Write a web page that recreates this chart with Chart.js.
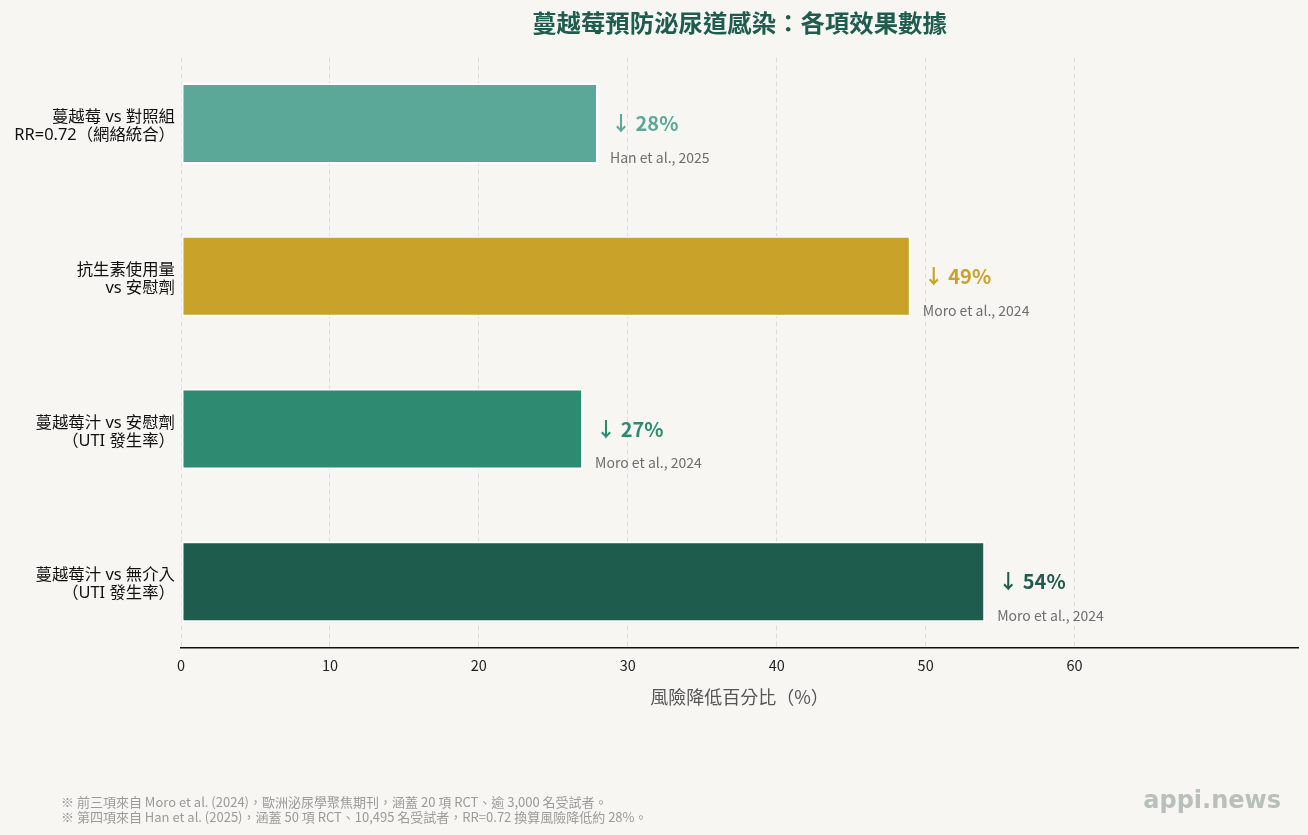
<!DOCTYPE html>
<html>
<head>
<meta charset="utf-8">
<script src="https://cdn.jsdelivr.net/npm/chart.js@4.4.1/dist/chart.umd.min.js"></script>
<style>
  html, body { margin: 0; padding: 0; background: #f7f6f2; }
  #wrap { width: 1308px; height: 835px; position: relative; }
</style>
</head>
<body>
<div id="wrap"><canvas id="chart"></canvas></div>
<script>
// data
const categories = [
  ['蔓越莓 vs 對照組', 'RR=0.72（網絡統合）'],
  ['抗生素使用量', 'vs 安慰劑'],
  ['蔓越莓汁 vs 安慰劑', '（UTI 發生率）'],
  ['蔓越莓汁 vs 無介入', '（UTI 發生率）']
];
const reductions = [28, 49, 27, 54];
const sources = ['Han et al., 2025', 'Moro et al., 2024', 'Moro et al., 2024', 'Moro et al., 2024'];
const barColors = ['#5ba898', '#c9a229', '#2e8b71', '#1e5c4d'];
const xTicks = [0, 10, 20, 30, 40, 50, 60];
const footnotes = [
  '※ 前三項來自 Moro et al. (2024)，歐洲泌尿學聚焦期刊，涵蓋 20 項 RCT、逾 3,000 名受試者。',
  '※ 第四項來自 Han et al. (2025)，涵蓋 50 項 RCT、10,495 名受試者，RR=0.72 換算風險降低約 28%。'
];

const CJK = "'Noto Sans CJK TC', 'Noto Sans CJK SC', sans-serif";
const LABEL = "'Noto Sans', 'Noto Sans CJK TC', sans-serif";

const background = {
  id: 'background',
  beforeDraw(chart) {
    const ctx = chart.ctx;
    ctx.save();
    ctx.fillStyle = '#f7f6f2';
    ctx.fillRect(0, 0, chart.width, chart.height);
    ctx.restore();
  }
};

// "↓ 28%" + source next to each bar
const barNotes = {
  id: 'barNotes',
  afterDatasetsDraw(chart) {
    const ctx = chart.ctx;
    const meta = chart.getDatasetMeta(0);
    ctx.save();
    meta.data.forEach((bar, i) => {
      ctx.textAlign = 'left';
      ctx.textBaseline = 'middle';
      ctx.fillStyle = barColors[i];
      ctx.font = 'bold 20px ' + CJK;
      ctx.fillText('↓ ' + reductions[i] + '%', bar.x + 13, bar.y);
      ctx.fillStyle = '#6e6e6e';
      ctx.font = '14px ' + CJK;
      ctx.fillText(sources[i], bar.x + 12, bar.y + 34);
    });
    ctx.restore();
  }
};

const footer = {
  id: 'footer',
  afterDraw(chart) {
    const ctx = chart.ctx;
    ctx.save();
    ctx.textAlign = 'left';
    ctx.textBaseline = 'middle';
    ctx.fillStyle = '#9a9a9a';
    ctx.font = '13px ' + CJK;
    footnotes.forEach((t, i) => ctx.fillText(t, 61, 802 + i * 15));
    ctx.textAlign = 'right';
    ctx.fillStyle = '#b9bfba';
    ctx.font = 'bold 24px "DejaVu Sans", sans-serif';
    ctx.fillText('appi.news', 1281, 802);
    ctx.restore();
  }
};

new Chart(document.getElementById('chart'), {
  type: 'bar',
  data: {
    datasets: [{
      data: reductions.map((v, i) => ({x: v, y: i})),
      backgroundColor: barColors,
      borderColor: '#ffffff',
      borderWidth: 2,
      borderSkipped: false,
      categoryPercentage: 1,
      barPercentage: 0.53
    }]
  },
  options: {
    indexAxis: 'y',
    responsive: true,
    maintainAspectRatio: false,
    animation: false,
    layout: {padding: {left: 0, right: 10, top: 0, bottom: 125}},
    plugins: {
      legend: {display: false},
      tooltip: {enabled: false},
      title: {
        display: true,
        text: '蔓越莓預防泌尿道感染：各項效果數據',
        fullSize: false,
        color: '#1e5c4d',
        font: {size: 24.4, weight: 'bold', family: CJK},
        padding: {top: 8, bottom: 20}
      }
    },
    scales: {
      x: {
        type: 'linear',
        min: 0,
        max: 75,
        afterBuildTicks: s => { s.ticks = xTicks.map(v => ({value: v})); },
        afterFit: s => { s.height = 62; },
        grid: {color: '#dcdcdc', lineWidth: 1, drawTicks: false},
        border: {display: true, color: '#111111', width: 1.5, dash: [5, 3]},
        ticks: {color: '#222222', padding: 9, font: {size: 14.5, family: CJK}},
        title: {
          display: true,
          text: '風險降低百分比（%）',
          color: '#555555',
          font: {size: 18, family: CJK},
          padding: {top: 4, bottom: 2}
        }
      },
      y: {
        type: 'linear',
        reverse: true,
        offset: false,
        min: -0.434,
        max: 3.434,
        afterBuildTicks: s => { s.ticks = categories.map((c, i) => ({value: i})); },
        afterFit: s => { s.width = 181; },
        grid: {display: false, offset: false, drawTicks: false},
        border: {display: false},
        ticks: {
          autoSkip: false,
          color: '#111111',
          padding: 6,
          labelOffset: 3,
          font: {size: 16.4, family: LABEL, lineHeight: 1.1},
          callback: v => categories[v]
        }
      }
    }
  },
  plugins: [background, barNotes, footer]
});
</script>
</body>
</html>
